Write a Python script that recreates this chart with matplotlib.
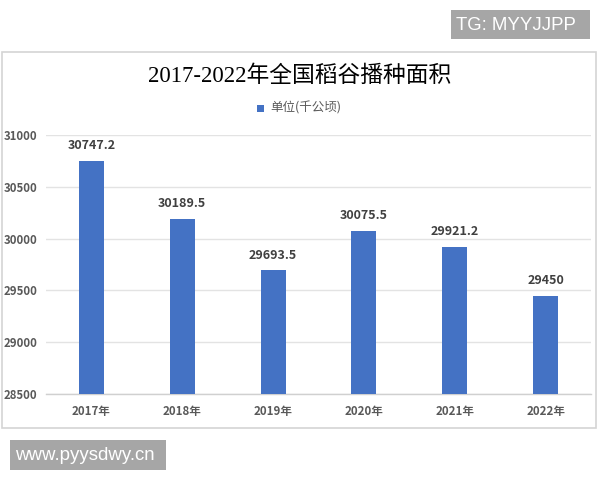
import numpy as np
import matplotlib
matplotlib.use('Agg')
import matplotlib.pyplot as plt
from matplotlib.patches import Rectangle

plt.rcParams['font.family'] = ['Noto Sans CJK SC', 'DejaVu Sans']

# rice sowing area per year, thousand hectares
years = ['2017年', '2018年', '2019年', '2020年', '2021年', '2022年']
area = [30747.2, 30189.5, 29693.5, 30075.5, 29921.2, 29450]
value_labels = ['30747.2', '30189.5', '29693.5', '30075.5', '29921.2', '29450']
yticks = [28500, 29000, 29500, 30000, 30500, 31000]

bar_color = '#4472C4'
text_gray = '#595959'

fig = plt.figure(figsize=(6, 4.8), dpi=100)
W, H = 600, 480

# chart area border, kept behind the axes
fig.patches.append(Rectangle((2 / W, 1 - 428 / H), 594 / W, 376 / H,
                             transform=fig.transFigure, facecolor='none',
                             edgecolor='#d4d4d4', linewidth=1.2, zorder=-1))

ax = fig.add_axes([46 / W, 1 - 394 / H, 545 / W, 259 / H])
x = np.arange(len(years))
ax.bar(x, area, width=0.275, color=bar_color, zorder=3)

ax.set_xlim(-0.5, 5.5)
ax.set_ylim(28500, 31000)
ax.set_yticks(yticks)
ax.set_yticklabels([str(t) for t in yticks], fontsize=8.2, color=text_gray,
                   fontweight='bold')
ax.set_xticks(x)
ax.set_xticklabels(years, fontsize=8.3, color=text_gray, fontweight='bold')
ax.tick_params(axis='y', length=0, pad=6)
ax.tick_params(axis='x', length=0, pad=8)

for s in ['top', 'right', 'left']:
    ax.spines[s].set_visible(False)
ax.spines['bottom'].set_color('#d0d0d0')
ax.spines['bottom'].set_linewidth(1.0)
ax.grid(axis='y', color='#e3e3e3', linewidth=1.0, zorder=0)
ax.set_axisbelow(True)
ax.patch.set_alpha(0)

# value above each bar
for xi, v, lab in zip(x, area, value_labels):
    ax.annotate(lab, (xi, v), xytext=(0, 11), textcoords='offset points',
                ha='center', va='center', fontsize=9, fontweight='bold',
                color='#404040')

# title and legend
fig.text(300 / W, 1 - 76 / H, '2017-2022年全国稻谷播种面积',
         family=['Liberation Serif', 'Noto Sans CJK SC'], fontsize=16.4,
         color='black', ha='center', va='center')
fig.patches.append(Rectangle((257 / W, 1 - 111.5 / H), 7 / W, 7 / H,
                             transform=fig.transFigure, facecolor=bar_color,
                             edgecolor='none'))
fig.text(270 / W, 1 - 107.5 / H, '单位(千公顷)', fontsize=9, color=text_gray,
         ha='left', va='center')

# watermark boxes
fig.patches.append(Rectangle((451 / W, 1 - 39 / H), 139 / W, 29 / H,
                             transform=fig.transFigure, facecolor='#a6a6a6',
                             edgecolor='none'))
fig.text(456 / W, 1 - 25 / H, 'TG: MYYJJPP', family='Liberation Sans',
         fontsize=13.4, color='white', ha='left', va='center')
fig.patches.append(Rectangle((10 / W, 1 - 470 / H), 156 / W, 30 / H,
                             transform=fig.transFigure, facecolor='#a6a6a6',
                             edgecolor='none'))
fig.text(15 / W, 1 - 455 / H, 'www.pyysdwy.cn', family='Liberation Sans',
         fontsize=13.4, color='white', ha='left', va='center')

fig.savefig('out.png', dpi=100, facecolor='white')
